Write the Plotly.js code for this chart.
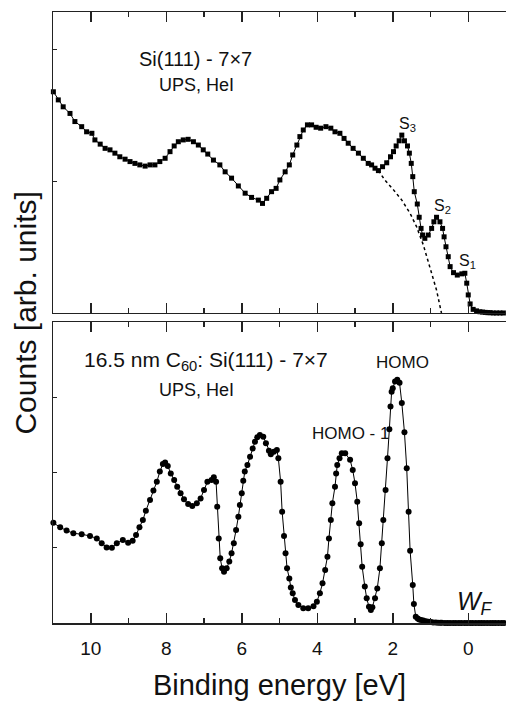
<!DOCTYPE html>
<html>
<head>
<meta charset="utf-8">
<script src="https://cdn.plot.ly/plotly-3.0.1.min.js"></script>
<style>html,body{margin:0;padding:0;background:#fff;}#chart{width:506px;height:702px;}</style>
</head>
<body>
<div id="chart"></div>
<script>
// Top panel: Si(111)-7x7 UPS spectrum (binding energy in eV, counts in arb. units)
var topEnergy = [10.99,10.86,10.73,10.55,10.42,10.24,10.11,9.97,9.89,9.75,9.62,9.49,9.36,9.23,9.09,8.96,8.83,8.70,8.56,8.43,8.30,8.17,8.03,7.90,7.79,7.68,7.55,7.42,7.28,7.15,7.02,6.90,6.75,6.58,6.44,6.27,6.09,5.91,5.74,5.56,5.45,5.34,5.21,5.09,4.99,4.85,4.74,4.65,4.54,4.46,4.37,4.26,4.15,4.03,3.91,3.77,3.64,3.53,3.40,3.29,3.18,3.05,2.91,2.78,2.65,2.56,2.47,2.38,2.27,2.16,2.06,1.98,1.91,1.83,1.76,1.69,1.61,1.56,1.51,1.47,1.43,1.35,1.30,1.25,1.21,1.15,1.06,0.97,0.91,0.84,0.75,0.68,0.64,0.59,0.53,0.48,0.39,0.29,0.17,0.09,0.04,0.00,-0.05,-0.13,-0.22,-0.31,-0.38,-0.45,-0.52,-0.58,-0.66,-0.75,-0.84,-0.93];
var topCounts = [73.5,70.8,68.5,66.3,63.6,61.9,60.2,59.7,57.5,56.1,54.7,54.2,53.1,51.9,51.1,50.3,49.7,49.2,48.8,49.2,49.2,50.3,51.4,53.6,55.5,56.9,57.5,57.7,56.9,55.8,54.2,52.8,50.8,49.2,46.9,44.8,42.2,39.8,38.4,37.5,36.4,38.1,40.3,41.4,44.2,46.9,49.2,52.5,55.8,58.6,60.8,62.5,62.5,61.7,61.4,61.9,61.4,60.2,59.7,58.0,56.4,54.7,53.1,51.4,49.7,49.2,48.1,47.3,48.6,49.9,51.9,53.6,55.5,57.2,59.1,57.2,55.5,53.1,49.7,45.3,40.3,36.2,31.8,28.1,25.9,24.8,25.9,28.1,30.3,31.8,30.3,28.1,25.3,22.0,18.7,15.4,13.4,12.6,13.0,13.2,9.9,6.0,3.0,1.2,0.7,0.4,0.3,0.2,0.1,0.1,0.0,0.0,0.0,0.0];

// Top panel: dotted background curve
var bgEnergy = [2.38,2.21,1.98,1.76,1.54,1.37,1.19,1.02,0.84,0.71];
var bgCounts = [47.3,44.2,40.9,37.5,33.1,28.7,22.6,15.4,7.6,0.0];

// Bottom panel: 16.5 nm C60 on Si(111)-7x7
var botEnergy = [10.99,10.81,10.64,10.46,10.24,10.02,9.84,9.71,9.58,9.44,9.31,9.15,9.01,8.89,8.80,8.71,8.62,8.54,8.43,8.34,8.25,8.17,8.09,8.03,7.96,7.88,7.79,7.71,7.62,7.53,7.42,7.31,7.19,7.09,7.00,6.91,6.80,6.74,6.68,6.65,6.61,6.57,6.52,6.47,6.40,6.33,6.27,6.21,6.15,6.09,6.05,6.00,5.96,5.92,5.85,5.78,5.71,5.65,5.59,5.52,5.43,5.36,5.28,5.23,5.15,5.07,5.03,4.97,4.93,4.88,4.84,4.80,4.74,4.70,4.65,4.59,4.50,4.37,4.24,4.10,4.01,3.93,3.86,3.79,3.73,3.69,3.64,3.60,3.53,3.50,3.47,3.41,3.35,3.26,3.13,3.06,3.00,2.94,2.89,2.85,2.81,2.74,2.69,2.63,2.58,2.54,2.47,2.41,2.34,2.29,2.25,2.19,2.14,2.09,2.06,2.03,2.00,1.94,1.88,1.82,1.76,1.69,1.63,1.58,1.54,1.47,1.44,1.39,1.34,1.30,1.25,1.19,1.12,1.05,0.99,0.93,0.86,0.80,0.74,0.70,0.62,0.55,0.48,0.40,0.33,0.25,0.18,0.10,0.03,-0.05,-0.12,-0.20,-0.28,-0.35,-0.42,-0.50,-0.58,-0.65,-0.72,-0.80,-0.88,-0.95];
var botCounts = [33.3,31.8,30.7,29.8,29.5,28.9,28.1,26.5,25.1,25.0,26.5,27.6,26.7,27.3,29.2,31.8,34.2,37.3,40.9,44.0,46.9,50.3,52.8,53.3,52.2,49.7,47.5,45.3,43.1,41.1,39.5,38.9,39.8,41.4,44.2,46.9,47.5,48.4,46.9,38.6,28.1,21.5,18.2,17.0,18.2,20.4,23.2,26.5,30.9,35.3,39.2,43.1,47.3,50.3,52.5,55.2,58.0,60.2,61.7,62.5,61.9,59.7,57.2,56.1,56.9,57.5,54.7,46.9,37.0,28.9,23.2,18.2,14.8,11.8,9.9,7.6,6.0,4.9,4.9,5.6,7.1,9.9,13.2,17.6,22.0,28.1,34.2,39.8,45.3,49.7,52.5,54.7,56.4,56.4,54.2,50.8,46.4,40.3,33.1,26.2,18.7,12.1,8.2,5.4,4.3,5.2,8.2,11.5,18.2,26.5,34.2,44.2,54.7,64.4,71.9,76.8,78.0,80.2,80.8,79.8,73.1,63.4,51.4,37.0,24.0,12.6,6.3,2.1,1.5,1.2,1.0,0.8,0.6,0.4,0.3,0.2,0.2,0.1,0.1,0.1,0.0,0.0,0.0,0.0,0.0,0.0,0.0,0.0,0.0,0.0,0.0,0.0,0.0,0.0,0.0,0.0,0.0,0.0,0.0,0.0,0.0,0.0,0.0];

var xTickVals = [10,8,6,4,2,0];
var xTickText = ["10","8","6","4","2","0"];
var xMinorVals = [11,9,7,5,3,1,-1];
var topYTicks = [43.7,87.4];
var botYTicks = [25,50,75];

var FONT = "Arial, 'Liberation Sans', Helvetica, sans-serif";
var AX = "#222";

var traces = [
  {x: topEnergy, y: topCounts, xaxis: "x2", yaxis: "y2", type: "scatter", mode: "lines+markers",
   line: {color: "#000", width: 1}, marker: {symbol: "square", size: 5, color: "#000"}, cliponaxis: false, hoverinfo: "none"},
  {x: bgEnergy, y: bgCounts, xaxis: "x2", yaxis: "y2", type: "scatter", mode: "lines",
   line: {color: "#000", width: 1.5, dash: "dot"}, hoverinfo: "none"},
  {x: botEnergy, y: botCounts, xaxis: "x", yaxis: "y", type: "scatter", mode: "lines+markers",
   line: {color: "#000", width: 1}, marker: {symbol: "circle", size: 6, color: "#000"}, cliponaxis: false, hoverinfo: "none"}
];

function xax(extra) {
  var a = {
    range: [11, -1], autorange: false,
    tickmode: "array", tickvals: xTickVals, ticktext: xTickText,
    ticks: "inside", ticklen: 10, tickwidth: 1.5, tickcolor: AX,
    minor: {tickmode: "array", tickvals: xMinorVals, ticks: "inside", ticklen: 5, tickwidth: 1.5, tickcolor: AX, showgrid: false},
    showline: true, linecolor: AX, linewidth: 1.5, mirror: "ticks",
    showgrid: false, zeroline: false,
    tickfont: {family: FONT, size: 19, color: "#111"}
  };
  for (var k in extra) a[k] = extra[k];
  return a;
}
function yax(extra) {
  var a = {
    range: [0, 100], autorange: false,
    tickmode: "array", showticklabels: false,
    ticks: "inside", ticklen: 4, tickwidth: 1, tickcolor: AX,
    showline: true, linecolor: AX, linewidth: 1.5, mirror: true,
    showgrid: false, zeroline: false
  };
  for (var k in extra) a[k] = extra[k];
  return a;
}

var layout = {
  width: 506, height: 702,
  margin: {l: 53, r: 0, t: 12, b: 79},
  paper_bgcolor: "#fff", plot_bgcolor: "#fff",
  showlegend: false,
  font: {family: FONT, color: "#111"},
  xaxis: xax({anchor: "y", ticklabelstandoff: 8,
    title: {text: "Binding energy [eV]", font: {family: FONT, size: 29, color: "#111"}, standoff: 16}}),
  yaxis: yax({domain: [0, 0.4926], anchor: "x", tickvals: botYTicks}),
  xaxis2: xax({anchor: "y2", matches: "x", showticklabels: false}),
  yaxis2: yax({domain: [0.5074, 1], anchor: "x2", tickvals: topYTicks}),
  annotations: [
    {xref: "paper", yref: "paper", x: -0.061, y: 0.507, text: "Counts [arb. units]", textangle: -90,
     showarrow: false, xanchor: "center", yanchor: "middle", font: {family: FONT, size: 30, color: "#111"}},
    {xref: "x2", yref: "y2", x: 7.22, y: 84.5, text: "Si(111) - 7×7", showarrow: false,
     xanchor: "center", yanchor: "middle", font: {family: FONT, size: 20, color: "#111"}},
    {xref: "x2", yref: "y2", x: 7.19, y: 75.7, text: "UPS, HeI", showarrow: false,
     xanchor: "center", yanchor: "middle", font: {family: FONT, size: 18, color: "#111"}},
    {xref: "x2", yref: "y2", x: 1.62, y: 62.5, text: "S<sub>3</sub>", showarrow: false,
     xanchor: "center", yanchor: "middle", font: {family: FONT, size: 16, color: "#111"}},
    {xref: "x2", yref: "y2", x: 0.67, y: 35.3, text: "S<sub>2</sub>", showarrow: false,
     xanchor: "center", yanchor: "middle", font: {family: FONT, size: 16, color: "#111"}},
    {xref: "x2", yref: "y2", x: 0.03, y: 17.0, text: "S<sub>1</sub>", showarrow: false,
     xanchor: "center", yanchor: "middle", font: {family: FONT, size: 16, color: "#111"}},
    {xref: "x", yref: "y", x: 6.95, y: 87.0, text: "16.5 nm C<sub>60</sub>: Si(111) - 7×7", showarrow: false,
     xanchor: "center", yanchor: "middle", font: {family: FONT, size: 21, color: "#111"}},
    {xref: "x", yref: "y", x: 7.19, y: 77.4, text: "UPS, HeI", showarrow: false,
     xanchor: "center", yanchor: "middle", font: {family: FONT, size: 18, color: "#111"}},
    {xref: "x", yref: "y", x: 1.73, y: 86.4, text: "HOMO", showarrow: false,
     xanchor: "center", yanchor: "middle", font: {family: FONT, size: 17, color: "#111"}},
    {xref: "x", yref: "y", x: 3.13, y: 63.1, text: "HOMO - 1", showarrow: false,
     xanchor: "center", yanchor: "middle", font: {family: FONT, size: 17, color: "#111"}},
    {xref: "x", yref: "y", x: -0.17, y: 6.5, text: "<i>W<sub>F</sub></i>", showarrow: false,
     xanchor: "center", yanchor: "middle", font: {family: FONT, size: 25, color: "#111"}}
  ]
};

Plotly.newPlot("chart", traces, layout, {staticPlot: true, displayModeBar: false});
</script>
</body>
</html>
